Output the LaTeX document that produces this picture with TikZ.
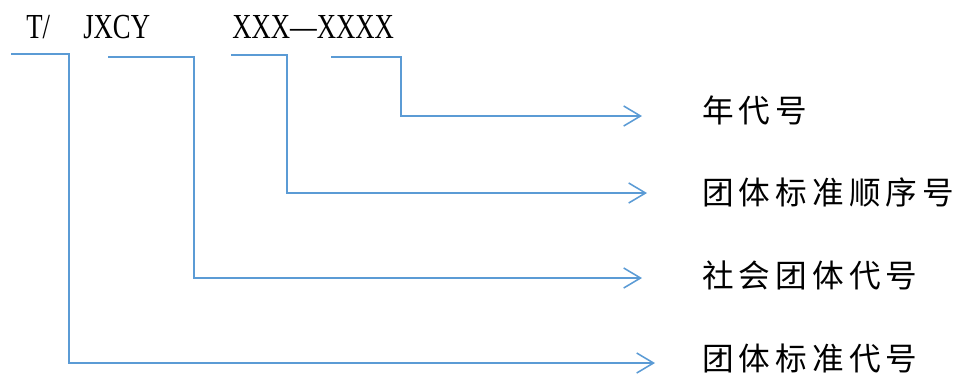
\documentclass[tikz,border=0pt]{standalone}
\usepackage{fontspec}
\setmainfont{Liberation Serif}
\newfontfamily\codefont{Liberation Serif}[FakeStretch=0.76]
\newfontfamily\cjk{Noto Sans CJK SC}[LetterSpace=16]
\usepackage{tikz}
\usetikzlibrary{arrows.meta}
\definecolor{lineblue}{RGB}{91,155,213}
\tikzset{
  conn/.style={draw=lineblue, line width=1.1pt, -{Straight Barb[length=4.2mm,width=5mm]}},
  code/.style={inner sep=0pt, anchor=base west, font=\codefont\fontsize{25pt}{30pt}\selectfont},
  meaning/.style={inner sep=0pt, anchor=west, font=\cjk\fontsize{22.5pt}{27pt}\selectfont}
}

\begin{document}
\begin{tikzpicture}[x=0.025cm, y=-0.025cm]
\useasboundingbox (0,0) rectangle (957,378);

\node[code] (prefix) at (26,38) {T/};
\node[code] (assoc) at (83,38) {JXCY};
\node[code] (number) at (232,38) {XXX—XXXX};

\node[meaning] (myear) at (702,110) {年代号};
\node[meaning] (mseq) at (702,192) {团体标准顺序号};
\node[meaning] (morg) at (702,275) {社会团体代号};
\node[meaning] (mstd) at (702,358) {团体标准代号};

\coordinate (sprefix) at (11,54);
\coordinate (sassoc) at (108,57);
\coordinate (snum) at (231,55);
\coordinate (syear) at (331,57);
\coordinate (tstd) at (655,363);
\coordinate (torg) at (642,278);
\coordinate (tseq) at (647,193);
\coordinate (tyear) at (642,116);

\draw[conn] (sprefix) -- ++(58,0) |- (tstd);
\draw[conn] (sassoc) -- ++(86,0) |- (torg);
\draw[conn] (snum) -- ++(56,0) |- (tseq);
\draw[conn] (syear) -- ++(70,0) |- (tyear);
\end{tikzpicture}
\end{document}
